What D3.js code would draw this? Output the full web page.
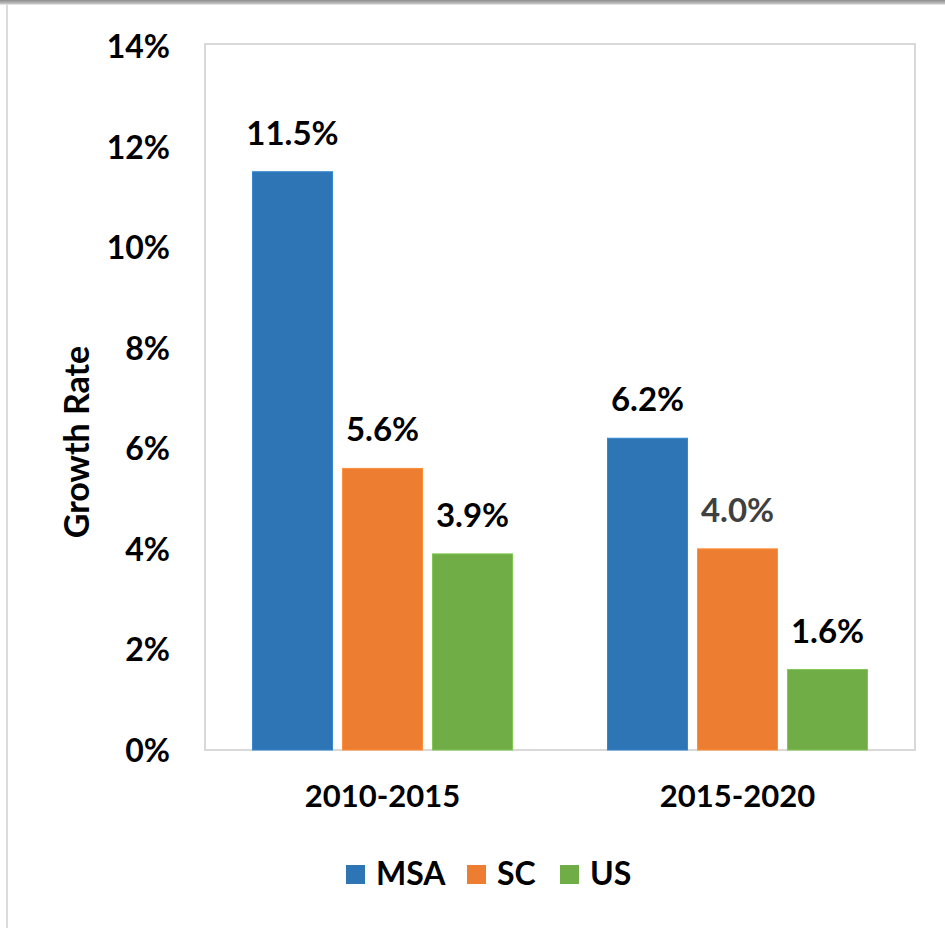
<!DOCTYPE html>
<html>
<head>
<meta charset="utf-8">
<script src="https://cdn.jsdelivr.net/npm/d3@7"></script>
<style>
  html, body { margin: 0; padding: 0; background: #fff; }
  svg { display: block; }
  text { font-family: Lato, "Open Sans", sans-serif; font-weight: 700; }
</style>
</head>
<body>
<svg id="chart" width="945" height="928"></svg>
<script>
const categories = ["2010-2015", "2015-2020"];
const seriesNames = ["MSA", "SC", "US"];
const msaValues = [11.5, 6.2];
const scValues = [5.6, 4.0];
const usValues = [3.9, 1.6];
const yTicks = [0, 2, 4, 6, 8, 10, 12, 14];
const colors = ["#2E75B6", "#ED7D31", "#70AD47"];
const labelColors = [["#000", "#000"], ["#000", "#404040"], ["#000", "#000"]];

const seriesValues = [msaValues, scValues, usValues];

const svg = d3.select("#chart");
const W = 945, H = 928;

// window frame decorations
const grad = svg.append("defs").append("linearGradient")
  .attr("id", "topbar").attr("x1", 0).attr("y1", 0).attr("x2", 0).attr("y2", 1);
grad.append("stop").attr("offset", "0%").attr("stop-color", "#8c8c8c");
grad.append("stop").attr("offset", "100%").attr("stop-color", "#c8c8c8");
svg.append("rect").attr("x", 0).attr("y", 0).attr("width", W).attr("height", 4).attr("fill", "url(#topbar)");
svg.append("rect").attr("x", 0).attr("y", 4).attr("width", W).attr("height", 1).attr("fill", "#e4e4e4");
svg.append("rect").attr("x", 6).attr("y", 4).attr("width", 2).attr("height", H).attr("fill", "#dcdcdc");

const plot = { left: 205, right: 915, top: 44, bottom: 750 };

const x0 = d3.scaleBand().domain(categories).range([plot.left, plot.right]).paddingInner(0).paddingOuter(0);
const groupWidth = 260;
const x1 = d3.scaleBand().domain(seriesNames).range([0, groupWidth]).paddingInner(0.111).paddingOuter(0);
const y = d3.scaleLinear().domain([0, 14]).range([plot.bottom, 46]);

// plot border
svg.append("rect")
  .attr("x", plot.left).attr("y", plot.top)
  .attr("width", plot.right - plot.left).attr("height", plot.bottom - plot.top)
  .attr("fill", "none").attr("stroke", "#d9d9d9").attr("stroke-width", 2);

// bars
seriesNames.forEach((s, si) => {
  const g = svg.append("g");
  categories.forEach((c, ci) => {
    const v = seriesValues[si][ci];
    const bx = x0(c) + (x0.bandwidth() - groupWidth) / 2 + x1(s);
    g.append("rect")
      .attr("x", bx).attr("y", y(v))
      .attr("width", x1.bandwidth()).attr("height", y(0) - y(v))
      .attr("fill", colors[si])
      .attr("stroke", d3.color(colors[si]).brighter(0.4)).attr("stroke-width", 1);
    g.append("text")
      .attr("x", bx + x1.bandwidth() / 2).attr("y", y(v) - 27)
      .attr("text-anchor", "middle")
      .attr("font-size", 33)
      .attr("fill", labelColors[si][ci])
      .text(v.toFixed(1) + "%");
  });
});

// y axis
const yAxis = d3.axisLeft(y).tickValues(yTicks).tickSize(0).tickPadding(0).tickFormat(d => d + "%");
const yg = svg.append("g").attr("transform", `translate(170,0)`).call(yAxis);
yg.select(".domain").remove();
yg.selectAll("text").attr("font-size", 32).attr("fill", "#000")
  .style("font-family", "Lato, sans-serif").style("font-weight", 700).attr("dy", "0.36em");

// x axis
const xAxis = d3.axisBottom(x0).tickSize(0).tickPadding(0);
const xg = svg.append("g").attr("transform", `translate(0,${plot.bottom})`).call(xAxis);
xg.select(".domain").remove();
xg.selectAll("text").attr("font-size", 31).attr("fill", "#000")
  .style("font-family", "Lato, sans-serif").style("font-weight", 700)
  .attr("y", 57).attr("dy", 0);

// y title
svg.append("text")
  .attr("transform", "translate(89,442) rotate(-90)")
  .attr("text-anchor", "middle")
  .attr("font-size", 34)
  .attr("fill", "#000")
  .text("Growth Rate");

// legend
const legendX = [346, 467, 560];
seriesNames.forEach((s, i) => {
  svg.append("rect").attr("x", legendX[i]).attr("y", 865).attr("width", 19).attr("height", 19).attr("fill", colors[i]);
  svg.append("text").attr("x", legendX[i] + 30).attr("y", 885)
    .attr("font-size", 32).attr("fill", "#000").text(s);
});
</script>
</body>
</html>
